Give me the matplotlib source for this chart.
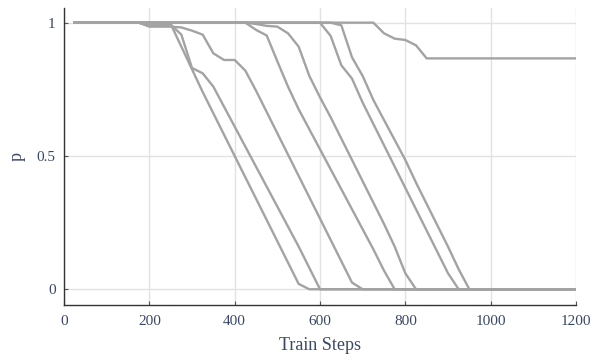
import matplotlib
matplotlib.use("Agg")
import matplotlib.pyplot as plt

steps = list(range(25, 1201, 25))

# Probability p for each run, keyed by train step (missing steps hold the last value)
run_a = {25: 1.0, 175: 1.0, 200: 0.99, 225: 0.99, 250: 0.995, 275: 0.91, 300: 0.825,
         325: 0.74, 350: 0.66, 375: 0.58, 400: 0.50, 425: 0.42, 450: 0.34, 475: 0.26,
         500: 0.18, 525: 0.10, 550: 0.02, 575: 0.0}
run_b = {25: 1.0, 175: 1.0, 200: 0.99, 225: 0.99, 250: 0.993, 275: 0.955, 300: 0.83,
         325: 0.81, 350: 0.76, 375: 0.685, 400: 0.61, 425: 0.535, 450: 0.46, 475: 0.385,
         500: 0.31, 525: 0.235, 550: 0.16, 575: 0.08, 600: 0.0}
run_c = {25: 1.0, 175: 1.0, 200: 0.985, 225: 0.985, 250: 0.985, 275: 0.982, 300: 0.97,
         325: 0.955, 350: 0.885, 375: 0.86, 400: 0.86, 425: 0.82, 450: 0.745, 475: 0.665,
         500: 0.585, 525: 0.505, 550: 0.425, 575: 0.345, 600: 0.265, 625: 0.185,
         650: 0.105, 675: 0.025, 700: 0.0}
run_d = {25: 1.0, 425: 1.0, 450: 0.973, 475: 0.952, 500: 0.855, 525: 0.76, 550: 0.675,
         575: 0.60, 600: 0.525, 625: 0.45, 650: 0.375, 675: 0.30, 700: 0.225, 725: 0.15,
         750: 0.07, 775: 0.0}
run_e = {25: 1.0, 450: 0.995, 475: 0.988, 500: 0.985, 525: 0.96, 550: 0.91, 575: 0.80,
         600: 0.72, 625: 0.645, 650: 0.565, 675: 0.485, 700: 0.405, 725: 0.325,
         750: 0.245, 775: 0.16, 800: 0.06, 825: 0.0}
run_f = {25: 1.0, 600: 1.0, 625: 0.95, 650: 0.84, 675: 0.79, 700: 0.70, 725: 0.62,
         750: 0.54, 775: 0.46, 800: 0.38, 825: 0.30, 850: 0.22, 875: 0.14, 900: 0.06,
         925: 0.0}
run_g = {25: 1.0, 625: 1.0, 650: 0.99, 675: 0.87, 700: 0.80, 725: 0.71, 750: 0.635,
         775: 0.56, 800: 0.485, 825: 0.40, 850: 0.32, 875: 0.24, 900: 0.16, 925: 0.075,
         950: 0.0}
run_h = {25: 1.0, 725: 1.0, 750: 0.96, 775: 0.94, 800: 0.935, 825: 0.915, 850: 0.866}

runs = [run_a, run_b, run_c, run_d, run_e, run_f, run_g, run_h]

x_ticks = [0, 200, 400, 600, 800, 1000, 1200]
y_ticks = [0, 0.5, 1]
y_tick_labels = ["0", "0.5", "1"]


def expand(run):
    vals = []
    last = None
    for s in steps:
        if s in run:
            last = run[s]
        vals.append(last)
    return vals


plt.rcParams["font.family"] = ["Liberation Serif", "DejaVu Serif"]

fig = plt.figure(figsize=(6, 3.6), dpi=100)
ax = fig.add_axes([0.1067, 0.1528, 0.8533, 0.825])

for run in runs:
    ax.plot(steps, expand(run), color="#a3a3a3", linewidth=1.7, solid_joinstyle="round",
            zorder=3)

ax.set_xlim(0, 1200)
ax.set_ylim(-0.059, 1.055)
ax.set_xticks(x_ticks)
ax.set_yticks(y_ticks)
ax.set_yticklabels(y_tick_labels)

ax.grid(True, color="#e2e2e2", linewidth=1.0, zorder=0)
ax.set_axisbelow(True)

for side in ("top", "right"):
    ax.spines[side].set_visible(False)
for side in ("left", "bottom"):
    ax.spines[side].set_color("#333333")
    ax.spines[side].set_linewidth(1.0)

label_color = "#3a4866"
ax.tick_params(axis="both", direction="in", length=3, width=0.8, color="#555555",
               labelsize=11, labelcolor=label_color)
ax.tick_params(axis="x", pad=7)
ax.tick_params(axis="y", pad=6)

ax.set_xlabel("Train Steps", fontsize=13, color=label_color, labelpad=7)
ax.set_ylabel("p", fontsize=13, color=label_color, labelpad=8)

fig.savefig("out.png", dpi=100)
